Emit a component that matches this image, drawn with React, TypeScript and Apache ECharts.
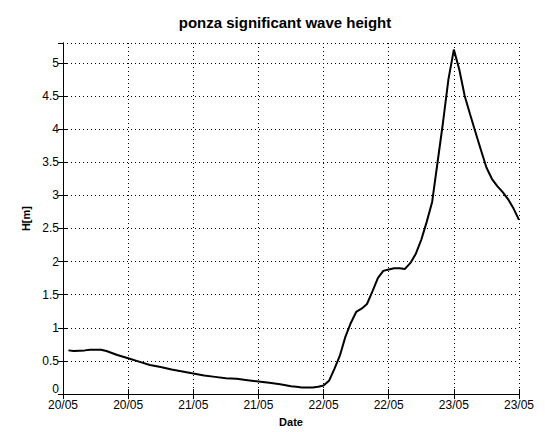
import React, { useEffect, useRef } from "react";
import * as echarts from "echarts";

// Hours elapsed since 20/05 00:00 and the significant wave height at each hour (m)
const hours = [
  1, 2, 4, 5, 7, 8, 9, 10, 12, 14, 16, 18, 20, 22, 24, 26, 28, 30, 32, 34, 36, 38, 40, 42, 43, 44,
  46, 47, 48, 49, 50, 51, 52, 53, 54, 55, 56, 57, 58, 59, 60, 61, 62, 63, 64, 65, 66, 67, 68, 69,
  70, 71, 72, 73, 74, 75, 76, 77, 78, 79, 80, 81, 82, 83, 84,
];
const waveHeight = [
  0.66, 0.65, 0.66, 0.67, 0.67, 0.65, 0.62, 0.59, 0.54, 0.49, 0.44, 0.41, 0.37, 0.34, 0.31, 0.28,
  0.26, 0.24, 0.23, 0.21, 0.19, 0.17, 0.15, 0.12, 0.11, 0.1, 0.1, 0.11, 0.13, 0.2, 0.38, 0.58,
  0.86, 1.07, 1.24, 1.29, 1.36, 1.55, 1.75, 1.86, 1.88, 1.9, 1.9, 1.89, 1.98, 2.12, 2.33, 2.6,
  2.9, 3.5, 4.1, 4.75, 5.2, 4.9, 4.5, 4.22, 3.95, 3.68, 3.42, 3.25, 3.14, 3.05, 2.94, 2.8, 2.63,
];

// Axis ranges and tick steps
const xRange = [0, 84];
const xStep = 12;
const yRange = [0, 5.3];
const yStep = 0.5;
const startDay = 20;
const monthLabel = "05";

const FONT = "'Liberation Sans', Arial, sans-serif";

const dateLabel = (h: number) => {
  const day = startDay + Math.floor(h / 24);
  return `${day}/${monthLabel}`;
};

export default function App() {
  const ref = useRef<HTMLDivElement>(null);

  useEffect(() => {
    if (!ref.current) return;
    const chart = echarts.init(ref.current, undefined, { renderer: "svg" });
    const gridLine = { show: true, lineStyle: { color: "#000", width: 1, type: [1, 3] as any } };
    const frame = { show: true, lineStyle: { color: "#000", width: 1 } };
    const tick = { show: true, inside: true, length: 5, lineStyle: { color: "#000" } };

    chart.setOption({
      animation: false,
      backgroundColor: "#fff",
      title: {
        text: "ponza significant wave height",
        left: 280,
        top: 10,
        textAlign: "center",
        textStyle: { fontFamily: FONT, fontSize: 15, fontWeight: "bold", color: "#000" },
      },
      grid: { left: 63, right: 26, top: 43, bottom: 35, containLabel: false },
      xAxis: [
        {
          type: "value",
          min: xRange[0],
          max: xRange[1],
          interval: xStep,
          position: "bottom",
          name: "Date",
          nameLocation: "middle",
          nameGap: 21,
          nameTextStyle: { fontFamily: FONT, fontSize: 11, fontWeight: "bold", color: "#000" },
          axisLine: frame,
          axisTick: tick,
          splitLine: gridLine,
          axisLabel: {
            fontFamily: FONT,
            fontSize: 12,
            color: "#000",
            margin: 5,
            formatter: (v: number) => dateLabel(v),
          },
        },
        {
          type: "value",
          min: xRange[0],
          max: xRange[1],
          interval: xStep,
          position: "top",
          axisLine: frame,
          axisTick: tick,
          splitLine: { show: false },
          axisLabel: { show: false },
        },
      ],
      yAxis: [
        {
          type: "value",
          min: yRange[0],
          max: yRange[1],
          interval: yStep,
          position: "left",
          name: "H[m]",
          nameLocation: "middle",
          nameGap: 28,
          nameRotate: 90,
          nameTextStyle: { fontFamily: FONT, fontSize: 11, fontWeight: "bold", color: "#000" },
          axisLine: frame,
          axisTick: tick,
          splitLine: gridLine,
          axisLabel: {
            fontFamily: FONT,
            fontSize: 12,
            color: "#000",
            margin: 4,
            showMaxLabel: false,
            // the zero label sits a little higher so it clears the first date label
            formatter: (v: number) => (v === 0 ? "{zero|0}" : String(v)),
            rich: {
              zero: { fontFamily: FONT, fontSize: 12, color: "#000", padding: [0, 0, 10, 0] },
            },
          },
        },
        {
          type: "value",
          min: yRange[0],
          max: yRange[1],
          interval: yStep,
          position: "right",
          axisLine: frame,
          axisTick: tick,
          splitLine: { show: false },
          axisLabel: { show: false },
        },
      ],
      series: [
        {
          type: "line",
          xAxisIndex: 0,
          yAxisIndex: 0,
          data: hours.map((h, i) => [h, waveHeight[i]]),
          showSymbol: false,
          symbol: "none",
          lineStyle: { color: "#000", width: 2 },
        },
      ],
    });
    return () => chart.dispose();
  }, []);

  return (
    <div
      ref={ref}
      style={{ position: "absolute", left: 0, top: 0, width: 545, height: 432, background: "#fff" }}
    />
  );
}
